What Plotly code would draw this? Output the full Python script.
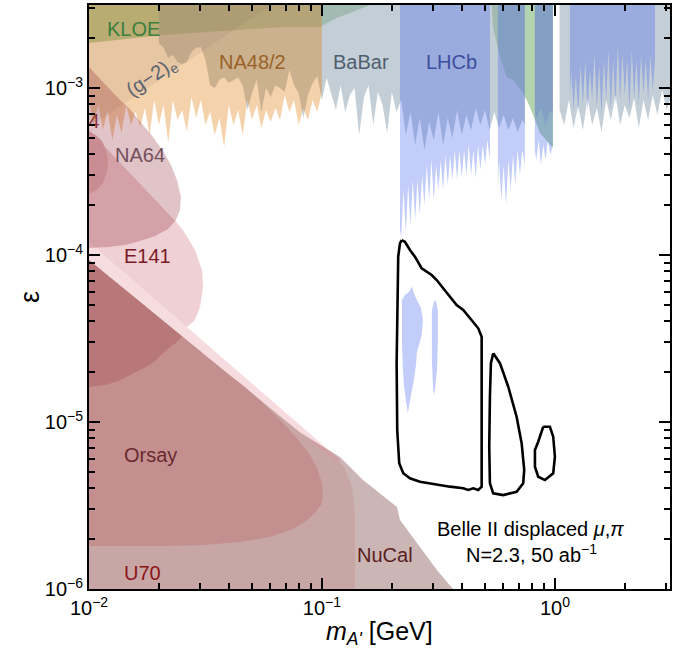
import math
import plotly.graph_objects as go

TOP = 4.0e-3      # beyond the upper edge of the plotted range
BOTTOM = 8.0e-7   # beyond the lower edge of the plotted range

# ---------------- NA48/2 (lower jagged edge) ----------------
na48_m = [0.01000, 0.01047, 0.01096, 0.01148, 0.01202, 0.01259, 0.01318, 0.01380, 0.01445, 0.01514,
          0.01585, 0.01660, 0.01738, 0.01820, 0.01905, 0.01995, 0.02089, 0.02188, 0.02291, 0.02399,
          0.02512, 0.02630, 0.02754, 0.02884, 0.03020, 0.03162, 0.03311, 0.03467, 0.03631, 0.03802,
          0.03981, 0.04169, 0.04365, 0.04571, 0.04786, 0.05012, 0.05248, 0.05495, 0.05754, 0.06026,
          0.06310, 0.06607, 0.06918, 0.07244, 0.07586, 0.07943, 0.08318, 0.08710, 0.09120, 0.09550,
          0.1000]
na48_eps = [8.47e-4, 6.00e-4, 7.91e-4, 5.61e-4, 7.38e-4, 4.88e-4, 6.89e-4, 5.38e-4, 7.91e-4, 6.00e-4,
            7.18e-4, 5.84e-4, 7.59e-4, 5.23e-4, 8.47e-4, 6.00e-4, 7.91e-4, 4.69e-4, 8.47e-4, 6.43e-4,
            7.38e-4, 5.45e-4, 8.83e-4, 6.61e-4, 8.47e-4, 6.00e-4, 7.18e-4, 5.23e-4, 6.61e-4, 4.43e-4,
            7.91e-4, 6.00e-4, 7.38e-4, 5.23e-4, 8.47e-4, 6.43e-4, 7.91e-4, 5.76e-4, 7.38e-4, 6.26e-4,
            7.59e-4, 6.43e-4, 9.08e-4, 7.18e-4, 8.47e-4, 6.00e-4, 7.59e-4, 6.43e-4, 8.47e-4, 7.18e-4,
            9.46e-4]

# ---------------- BaBar (three mass windows, lower jagged edge) ----------------
babarA_m = [0.01995, 0.02089, 0.02188, 0.02291, 0.02399, 0.02512, 0.02630, 0.02754, 0.02884, 0.03020,
            0.03162, 0.03311, 0.03467, 0.03631, 0.03802, 0.03981, 0.04169, 0.04365, 0.04571, 0.04786,
            0.05012, 0.05248, 0.05495, 0.05754, 0.06026, 0.06310, 0.06607, 0.06918, 0.07244, 0.07586,
            0.07943, 0.08318, 0.08710, 0.09120, 0.09550, 0.1000, 0.1047, 0.1096, 0.1148, 0.1202,
            0.1259, 0.1318, 0.1380, 0.1445, 0.1514, 0.1585, 0.1660, 0.1738, 0.1820, 0.1905,
            0.1995, 0.2089, 0.2188, 0.2291, 0.2399, 0.2512, 0.2630, 0.2754, 0.2884, 0.3020,
            0.3162, 0.3311, 0.3467, 0.3631, 0.3802, 0.3981, 0.4169, 0.4365, 0.4571, 0.4786,
            0.5012, 0.5248, 0.5495, 0.5754, 0.6026, 0.6310, 0.6607, 0.6918, 0.7244, 0.743]
babarA_eps = [1.86e-3, 1.74e-3, 1.51e-3, 1.58e-3, 1.43e-3, 1.39e-3, 1.43e-3, 1.64e-3, 1.74e-3, 1.76e-3,
              1.47e-3, 1.04e-3, 1.00e-3, 1.12e-3, 1.16e-3, 1.07e-3, 1.12e-3, 1.16e-3, 1.03e-3, 7.38e-4,
              9.33e-4, 1.12e-3, 7.18e-4, 1.00e-3, 8.83e-4, 1.04e-3, 1.00e-3, 9.46e-4, 1.28e-3, 1.04e-3,
              9.33e-4, 6.61e-4, 9.08e-4, 1.07e-3, 1.18e-3, 8.47e-4, 1.15e-3, 9.08e-4, 7.38e-4, 1.04e-3,
              7.18e-4, 9.08e-4, 1.00e-3, 5.23e-4, 8.83e-4, 1.04e-3, 6.00e-4, 9.46e-4, 7.91e-4, 5.38e-4,
              9.46e-4, 7.18e-4, 8.47e-4, 5.23e-4, 7.18e-4, 4.56e-4, 6.61e-4, 4.25e-4, 6.26e-4, 4.88e-4,
              7.18e-4, 4.56e-4, 6.61e-4, 5.02e-4, 7.38e-4, 5.23e-4, 6.89e-4, 5.61e-4, 7.59e-4, 6.00e-4,
              7.38e-4, 5.61e-4, 7.18e-4, 5.76e-4, 6.89e-4, 5.61e-4, 6.61e-4, 5.45e-4, 6.43e-4, 6.00e-4]
babarB_m = [0.82, 0.8318, 0.871, 0.912, 0.955, 0.98]
babarB_eps = [7.18e-4, 6.61e-4, 7.59e-4, 6.00e-4, 7.38e-4, 6.89e-4]
babarC_m = [1.047, 1.096, 1.148, 1.202, 1.259, 1.318, 1.380, 1.445, 1.514, 1.585,
            1.660, 1.738, 1.820, 1.905, 1.995, 2.089, 2.188, 2.291, 2.399, 2.512,
            2.630, 2.754, 2.884, 3.020, 3.162, 3.311]
babarC_eps = [7.38e-4, 6.00e-4, 8.47e-4, 5.76e-4, 7.91e-4, 5.61e-4, 8.70e-4, 6.00e-4, 7.59e-4, 5.45e-4,
              8.47e-4, 6.43e-4, 9.08e-4, 6.00e-4, 7.91e-4, 6.61e-4, 8.70e-4, 5.76e-4, 8.47e-4, 6.43e-4,
              9.08e-4, 6.89e-4, 9.73e-4, 7.38e-4, 9.08e-4, 8.47e-4]

# ---------------- LHCb (four mass windows, lower jagged edge) ----------------
lhcbA_m = [0.2162, 0.2188, 0.2239, 0.2291, 0.2344, 0.2399, 0.2455, 0.2512, 0.2570, 0.2630,
           0.2691, 0.2754, 0.2818, 0.2884, 0.2951, 0.3020, 0.3090, 0.3162, 0.3236, 0.3311,
           0.3388, 0.3467, 0.3548, 0.3631, 0.3715, 0.3802, 0.3890, 0.3981, 0.4074, 0.4169,
           0.4266, 0.4365, 0.4467, 0.4571, 0.4677, 0.4786, 0.4898, 0.5012, 0.5129, 0.526]
lhcbA_eps = [1.41e-4, 1.28e-4, 2.45e-4, 1.36e-4, 2.63e-4, 1.51e-4, 2.81e-4, 1.62e-4, 2.81e-4, 1.74e-4,
             3.01e-4, 1.99e-4, 3.46e-4, 2.13e-4, 3.71e-4, 2.13e-4, 3.46e-4, 2.45e-4, 3.71e-4, 2.45e-4,
             3.98e-4, 2.63e-4, 3.98e-4, 2.81e-4, 4.25e-4, 2.81e-4, 4.25e-4, 2.89e-4, 4.25e-4, 3.01e-4,
             4.56e-4, 3.01e-4, 4.25e-4, 2.89e-4, 4.56e-4, 3.23e-4, 4.56e-4, 3.46e-4, 4.88e-4, 3.71e-4]
lhcbB_m = [0.569, 0.5754, 0.589, 0.6026, 0.617, 0.631, 0.646, 0.6607, 0.676, 0.6918, 0.708, 0.7244, 0.743]
lhcbB_eps = [2.45e-4, 3.71e-4, 2.13e-4, 3.46e-4, 1.99e-4, 3.71e-4, 2.45e-4, 3.98e-4, 2.63e-4, 4.25e-4,
             3.01e-4, 4.25e-4, 3.46e-4]
lhcbC_m = [0.82, 0.8318, 0.851, 0.871, 0.891, 0.912, 0.933, 0.955, 0.98]
lhcbC_eps = [4.25e-4, 3.71e-4, 4.88e-4, 3.46e-4, 4.56e-4, 3.71e-4, 4.88e-4, 3.98e-4, 4.56e-4]
lhcbD_m = [1.16, 1.174, 1.202, 1.230, 1.259, 1.288, 1.318, 1.349, 1.380, 1.413,
           1.445, 1.479, 1.514, 1.549, 1.585, 1.622, 1.660, 1.698, 1.738, 1.778,
           1.820, 1.862, 1.905, 1.950, 1.995, 2.042, 2.089, 2.138, 2.188, 2.239,
           2.291, 2.344, 2.399, 2.455, 2.512, 2.570, 2.630, 2.69]
lhcbD_eps = [8.47e-4, 1.28e-3, 7.38e-4, 1.20e-3, 6.89e-4, 1.37e-3, 7.91e-4, 1.47e-3, 7.18e-4, 1.28e-3,
             8.47e-4, 1.58e-3, 7.59e-4, 1.37e-3, 6.89e-4, 1.47e-3, 8.47e-4, 1.69e-3, 7.38e-4, 1.47e-3,
             7.91e-4, 1.81e-3, 8.47e-4, 1.58e-3, 9.08e-4, 1.47e-3, 7.38e-4, 1.69e-3, 8.47e-4, 1.47e-3,
             7.91e-4, 1.58e-3, 9.08e-4, 1.47e-3, 8.47e-4, 1.58e-3, 9.73e-4, 1.47e-3]
lhcb_patch1_m = [0.2205, 0.2271, 0.2362, 0.2433, 0.2506, 0.2582, 0.2660, 0.2713, 0.2679, 0.2608,
                 0.2557, 0.2531, 0.2481, 0.2410, 0.2338, 0.2293, 0.2248, 0.2226, 0.2205, 0.2205]
lhcb_patch1_eps = [5.38e-5, 5.77e-5, 6.00e-5, 6.46e-5, 5.68e-5, 5.23e-5, 4.82e-5, 4.08e-5, 3.31e-5, 2.89e-5,
                   2.63e-5, 2.19e-5, 1.78e-5, 1.45e-5, 1.13e-5, 1.35e-5, 1.66e-5, 2.10e-5, 2.89e-5, 4.08e-5]
lhcb_patch2_m = [0.2965, 0.3024, 0.3085, 0.3147, 0.3147, 0.3116, 0.3054, 0.3024, 0.2994, 0.2965, 0.2965]
lhcb_patch2_eps = [4.69e-5, 5.23e-5, 5.38e-5, 4.56e-5, 3.10e-5, 2.05e-5, 1.55e-5, 1.44e-5, 1.66e-5, 2.35e-5, 3.56e-5]

# ---------------- KLOE ----------------
kloe1_m = [0.01, 0.01, 0.0202, 0.0423, 0.0693, 0.0981, 0.1146, 0.1355, 0.1607, 0.18]
kloe1_eps = [TOP, 1.86e-3, 2.07e-3, 2.22e-3, 2.32e-3, 2.32e-3, 2.62e-3, 2.85e-3, 3.14e-3, TOP]
kloe2_m = [0.5365, 0.5365, 0.542, 0.581, 0.622, 0.660, 0.716, 0.757, 0.800, 0.862, 0.98, 0.98]
kloe2_eps = [TOP, 3.05e-3, 2.32e-3, 1.53e-3, 1.16e-3, 1.12e-3, 9.73e-4, 8.47e-4, 7.08e-4, 5.38e-4, 4.38e-4, TOP]

# ---------------- (g-2)_e ----------------
g2_m = [0.01, 0.0789, 0.01]
g2_eps = [5.83e-4, TOP, TOP]

# ---------------- beam dumps ----------------
nucal_m = [0.01, 0.0805, 0.1195, 0.150, 0.2099, 0.2162, 0.2557, 0.3115, 0.3649, 0.385, 0.01]
nucal_eps = [9.3e-5, 8.64e-6, 6.17e-6, 4.49e-6, 3.10e-6, 2.59e-6, 1.886e-6, 1.30e-6, 1.0e-6, BOTTOM, BOTTOM]
e141_m = [0.01, 0.0150, 0.0202, 0.02362, 0.02531, 0.02851, 0.03055, 0.03085, 0.02996, 0.02851, 0.02634, 0.01]
e141_eps = [5.61e-4, 3.10e-4, 1.99e-4, 1.58e-4, 1.41e-4, 1.07e-4, 8.13e-5, 6.43e-5, 4.88e-5, 4.08e-5, 3.71e-5, 1.196e-4]
strip_m = [0.01, 0.1195, 0.1195, 0.01]
strip_eps = [1.196e-4, 5.94e-6, 5.47e-6, 9.3e-5]
u70_m = [0.01, 0.1115, 0.1231, 0.1345, 0.1386, 0.1386, 0.01]
u70_eps = [9.3e-5, 5.92e-6, 5.53e-6, 4.08e-6, 2.85e-6, BOTTOM, BOTTOM]
orsay_m = [0.01, 0.0202, 0.02996, 0.04448, 0.05983, 0.07291, 0.08453, 0.09333, 0.0990, 0.1010,
           0.1000, 0.0952, 0.0871, 0.0766, 0.06604, 0.05529, 0.04672, 0.03949, 0.01]
orsay_eps = [1.81e-6, 1.81e-6, 1.83e-6, 1.91e-6, 2.05e-6, 2.25e-6, 2.52e-6, 2.85e-6, 3.18e-6, 3.56e-6,
             4.31e-6, 5.30e-6, 6.61e-6, 8.25e-6, 1.03e-5, 1.318e-5, 1.62e-5, 1.94e-5, 9.3e-5]
e137_m = [0.01, 0.0251, 0.02459, 0.02362, 0.02249, 0.0214, 0.0202, 0.0192, 0.01809, 0.01689,
          0.0159, 0.0147, 0.01359, 0.01255, 0.0116, 0.01072, 0.01]
e137_eps = [9.3e-5, 3.25e-5, 3.18e-5, 2.97e-5, 2.85e-5, 2.66e-5, 2.48e-5, 2.32e-5, 2.19e-5, 2.08e-5,
            1.99e-5, 1.885e-5, 1.78e-5, 1.712e-5, 1.66e-5, 1.643e-5, 1.62e-5]
e774_m = [0.01, 0.01072, 0.01137, 0.01183, 0.01207, 0.01195, 0.01148, 0.01082, 0.01]
e774_eps = [5.53e-4, 5.20e-4, 4.82e-4, 4.26e-4, 3.71e-4, 3.14e-4, 2.70e-4, 2.45e-4, 2.32e-4]
na64_m = [0.01, 0.01115, 0.01231, 0.01359, 0.01485, 0.01672, 0.01882, 0.02078, 0.02249, 0.02386,
          0.02482, 0.02459, 0.02362, 0.02183, 0.0192, 0.01655, 0.01427, 0.01207, 0.01]
na64_eps = [1.335e-3, 1.132e-3, 9.73e-4, 8.47e-4, 7.59e-4, 6.26e-4, 5.09e-4, 4.20e-4, 3.46e-4, 2.81e-4,
            2.23e-4, 1.86e-4, 1.62e-4, 1.43e-4, 1.30e-4, 1.213e-4, 1.148e-4, 1.116e-4, 1.101e-4]

# ---------------- Belle II displaced mu,pi sensitivity contours ----------------
belle1_m = [0.2199, 0.2271, 0.2386, 0.2506, 0.2679, 0.2815, 0.2957, 0.3107, 0.3317, 0.3543,
            0.3785, 0.4041, 0.4318, 0.4687, 0.4847, 0.4847, 0.4847, 0.4687, 0.4461, 0.4246,
            0.4041, 0.3543, 0.2908, 0.2634, 0.2386, 0.2233, 0.2146, 0.2104, 0.2092, 0.2104,
            0.2125, 0.2162, 0.2199]
belle1_eps = [1.229e-4, 1.201e-4, 1.071e-4, 9.77e-5, 8.33e-5, 7.94e-5, 7.59e-5, 7.08e-5, 6.32e-5, 5.63e-5,
              5.02e-5, 4.69e-5, 4.18e-5, 3.64e-5, 3.24e-5, 1.417e-5, 4.10e-6, 3.92e-6, 4.01e-6, 3.92e-6,
              4.01e-6, 4.10e-6, 4.29e-6, 4.39e-6, 4.60e-6, 4.93e-6, 5.66e-6, 8.96e-6, 2.25e-5, 5.63e-5,
              9.77e-5, 1.175e-4, 1.229e-4]
belle2_m = [0.5435, 0.5807, 0.6304, 0.6848, 0.7196, 0.7382, 0.7309, 0.6848, 0.5999, 0.5435,
            0.5260, 0.5225, 0.5260, 0.5312, 0.5435]
belle2_eps = [2.58e-5, 2.25e-5, 1.627e-5, 1.076e-5, 7.46e-6, 5.16e-6, 4.29e-6, 3.82e-6, 3.65e-6, 3.74e-6,
              4.29e-6, 7.11e-6, 1.417e-5, 2.25e-5, 2.58e-5]
belle3_m = [0.8909, 0.9517, 0.9833, 1.0, 0.9833, 0.9060, 0.8478, 0.8208, 0.8208, 0.8478, 0.8909]
belle3_eps = [9.37e-6, 9.37e-6, 8.17e-6, 6.20e-6, 4.93e-6, 4.49e-6, 4.70e-6, 5.40e-6, 6.80e-6, 7.62e-6, 9.37e-6]

# ---------------- axis ticks ----------------
x_major = [0.01, 0.1, 1.0]
x_major_text = ["10<sup>\u22122</sup>", "10<sup>\u22121</sup>", "10<sup>0</sup>"]
y_major = [1e-6, 1e-5, 1e-4, 1e-3]
y_major_text = ["10<sup>\u22126</sup>", "10<sup>\u22125</sup>", "10<sup>\u22124</sup>", "10<sup>\u22123</sup>"]
x_minor = [d * f for d in (0.01, 0.1, 1.0) for f in range(2, 10) if d * f < 3.2]
y_minor = [d * f for d in (1e-6, 1e-5, 1e-4, 1e-3) for f in range(2, 10) if d * f < 3.2e-3]

fig = go.Figure()


def region(m, eps, color):
    fig.add_trace(go.Scatter(x=m, y=eps, mode="lines", fill="toself", fillcolor=color,
                             line=dict(width=0, color=color), hoverinfo="skip", showlegend=False))


def band(m, eps, color):
    region([m[0]] + m + [m[-1]], [TOP] + eps + [TOP], color)


# beam-dump cluster
region(nucal_m, nucal_eps, "rgb(203,181,181)")
region(e141_m, e141_eps, "rgb(239,208,212)")
region(strip_m, strip_eps, "rgba(215,80,95,0.2)")
region(u70_m, u70_eps, "rgb(200,166,166)")
region(orsay_m, orsay_eps, "rgb(196,143,143)")
region(e137_m, e137_eps, "rgb(184,119,120)")
region(e774_m, e774_eps, "rgb(223,180,183)")

# clipped E774 label (only its tail is visible inside the frame)
fig.add_trace(go.Scatter(x=[0.0111], y=[6.17e-4], mode="text", text=["E774"],
                         textposition="middle left", cliponaxis=True, hoverinfo="skip",
                         showlegend=False, textfont=dict(size=20, color="rgb(140,55,70)")))

# top region
region(kloe1_m, kloe1_eps, "rgba(88,159,77,0.45)")
region(kloe2_m, kloe2_eps, "rgba(88,159,77,0.45)")
babar_col = "rgba(148,166,180,0.55)"
band(babarA_m, babarA_eps, babar_col)
band(babarB_m, babarB_eps, babar_col)
band(babarC_m, babarC_eps, babar_col)
band(na48_m, na48_eps, "rgba(221,119,0,0.33)")
region(g2_m, g2_eps, "rgba(120,100,100,0.10)")
lhcb_col = "rgba(66,100,235,0.32)"
band(lhcbA_m, lhcbA_eps, lhcb_col)
band(lhcbB_m, lhcbB_eps, lhcb_col)
band(lhcbC_m, lhcbC_eps, lhcb_col)
band(lhcbD_m, lhcbD_eps, lhcb_col)
region(lhcb_patch1_m, lhcb_patch1_eps, lhcb_col)
region(lhcb_patch2_m, lhcb_patch2_eps, lhcb_col)
region(na64_m, na64_eps, "rgba(131,19,35,0.25)")

# Belle II contours
for bm, be in ((belle1_m, belle1_eps), (belle2_m, belle2_eps), (belle3_m, belle3_eps)):
    fig.add_trace(go.Scatter(x=bm, y=be, mode="lines", line=dict(color="black", width=2.6),
                             hoverinfo="skip", showlegend=False))

FONT = "Liberation Sans, Arial, Helvetica, sans-serif"


def label(text, m, eps, color, size=20, angle=0):
    fig.add_annotation(x=math.log10(m), y=math.log10(eps), xref="x", yref="y", text=text,
                       xanchor="center", yanchor="middle",
                       showarrow=False, textangle=angle, font=dict(size=size, color=color, family=FONT))


label("KLOE", 0.0156, 2.26e-3, "#3d7f3d")
label("(g\u22122)<sub>e</sub>", 0.0186, 1.16e-3, "#5a6470", angle=-34)
label("NA48/2", 0.0501, 1.43e-3, "#9a6228")
label("BaBar", 0.147, 1.43e-3, "#4f5f6e")
label("LHCb", 0.3614, 1.43e-3, "#3d4fa0")
label("NA64", 0.01655, 3.98e-4, "#74505a")
label("E141", 0.01774, 9.86e-5, "#7a1a25")
label("Orsay", 0.01845, 6.34e-6, "#6a2a30")
label("U70", 0.01705, 1.247e-6, "#8a1515")
label("NuCal", 0.1864, 1.60e-6, "#5a2020")
label("Belle II displaced <i>\u03bc</i>,<i>\u03c0</i>", 0.789, 2.29e-6, "black")
label("N=2.3, 50 ab<sup>\u22121</sup>", 0.793, 1.64e-6, "black")

# axis titles
fig.add_annotation(x=0.5, y=-0.0753, xref="paper", yref="paper", showarrow=False,
                   xanchor="center", yanchor="middle",
                   text="<i>m</i><sub><i>A'</i></sub> [GeV]", font=dict(size=25, family=FONT, color="black"))
fig.add_annotation(x=-0.1015, y=0.5, xref="paper", yref="paper", showarrow=False, textangle=-90,
                   xanchor="center", yanchor="middle",
                   text="\u03b5", font=dict(size=27, family=FONT, color="black"))

axis_common = dict(ticks="inside", ticklen=11, tickwidth=2, tickcolor="black", showline=True,
                   linewidth=2, linecolor="black", mirror="allticks", showgrid=False, zeroline=False,
                   automargin=False, tickfont=dict(size=20, family=FONT, color="black"))
fig.update_xaxes(type="log", range=[-2, 0.494], tickvals=x_major, ticktext=x_major_text,
                 minor=dict(ticks="inside", ticklen=6, tickwidth=1.5, tickcolor="black",
                            tickvals=x_minor, showgrid=False), **axis_common)
fig.update_yaxes(type="log", range=[-6, -2.503], tickvals=y_major, ticktext=y_major_text,
                 minor=dict(ticks="inside", ticklen=6, tickwidth=1.5, tickcolor="black",
                            tickvals=y_minor, showgrid=False), **axis_common)

fig.update_layout(width=686, height=655, margin=dict(l=89, r=16, t=5, b=66, autoexpand=False),
                  plot_bgcolor="white", paper_bgcolor="white", showlegend=False,
                  font=dict(family=FONT, color="black"))

fig.write_html("out.html", config={"displayModeBar": False},
               post_script="document.body.style.margin='0px';")
